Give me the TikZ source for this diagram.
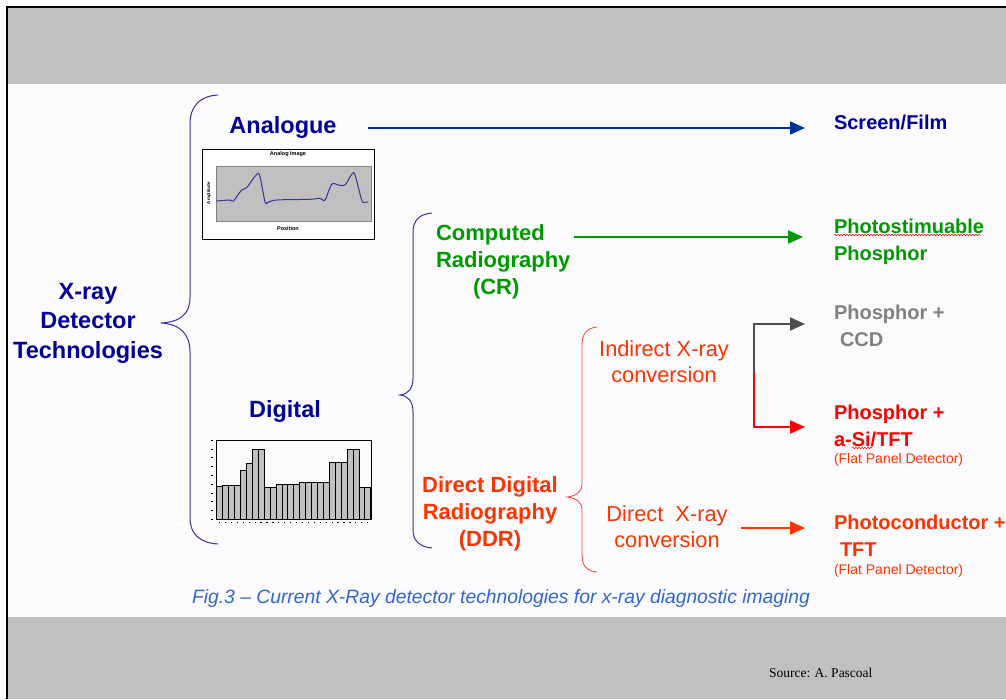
\documentclass[tikz,border=0pt]{standalone}
\usepackage{fontspec}
\setmainfont{Liberation Sans}
\newfontfamily\serifsrc{Liberation Serif}
\usetikzlibrary{arrows.meta,calc,decorations.pathmorphing}
\definecolor{navy}{RGB}{0,0,153}
\definecolor{arrowblue}{RGB}{0,51,153}
\definecolor{braceblue}{RGB}{51,51,153}
\definecolor{grn}{RGB}{0,153,0}
\definecolor{orred}{RGB}{255,51,0}
\definecolor{pured}{RGB}{255,0,0}
\definecolor{bracered}{RGB}{255,60,60}
\definecolor{midgray}{RGB}{128,128,128}
\definecolor{arrowgray}{RGB}{77,77,77}
\definecolor{capblue}{RGB}{51,102,204}
\definecolor{slidebg}{RGB}{251,251,253}
\definecolor{bandgray}{RGB}{192,192,192}
\definecolor{plotgray}{RGB}{192,192,192}
\newcommand\myfs[2]{\fontsize{#1}{#2}\selectfont}
\begin{document}
\begin{tikzpicture}[x=1pt,y=-1pt,
  every node/.style={inner sep=0pt,outer sep=0pt},
  maintitle/.style={font=\myfs{23.5}{29.5}\bfseries,text=navy,align=center},
  subtitle/.style={font=\myfs{22}{27}\bfseries},
  conv/.style={font=\myfs{21.8}{26},text=orred,align=center},
  result/.style={font=\myfs{20}{27}\bfseries,align=left},
  fpd/.style={font=\myfs{14}{16},text=orred},
  arr/.style={line width=2pt,-{Triangle[length=15pt,width=13pt]}},
  bracepath/.style={line width=1pt},
  wavy/.style={decorate,decoration={snake,amplitude=0.8pt,segment length=3pt},pured,line width=0.5pt},
  tinyf/.style={font=\myfs{5.5}{6}\bfseries}
]
\useasboundingbox (0,0) rectangle (1006,699);
% background
\fill[white] (0,0) rectangle (1006,699);
\fill[bandgray] (8,8) rectangle (1006,84);
\fill[bandgray] (8,617) rectangle (1006,699);
\fill[slidebg] (8,84) rectangle (1006,617);
\draw[line width=2.5pt] (7.2,699) -- (7.2,7.2) -- (1006,7.2);

% left titles
\node[maintitle,anchor=north] (xray) at (88,283) {X-ray\\Detector\\Technologies};
\node[maintitle,anchor=north] (analogue) at (283,116) {Analogue};
\node[maintitle,anchor=north] (digital) at (285,400) {Digital};

% middle
\node[subtitle,text=grn,align=left,anchor=north west] (cr) at (436,225) {Computed\\Radiography\\\hspace*{37pt}(CR)};
\node[subtitle,text=orred,align=center,anchor=north] (ddr) at (490,477) {Direct Digital\\Radiography\\(DDR)};
\node[conv,anchor=north] (indirect) at (664,341) {Indirect X-ray\\conversion};
\node[conv,anchor=north] (direct) at (667,506) {Direct\ \ X-ray\\conversion};

% right results
\node[result,text=navy,anchor=north west] (screen) at (834,115) {Screen/Film};
\node[result,text=grn,anchor=north west] (psp) at (834,219) {Photostimuable\\Phosphor};
\node[result,text=midgray,anchor=north west] (ccd) at (834,305) {Phosphor +\\\hspace*{6pt}CCD};
\node[result,text=pured,anchor=north west] (asi) at (834,405) {Phosphor +\\a-Si/TFT};
\node[fpd,anchor=west] (fpd1) at (834,460) {(Flat Panel Detector)};
\node[result,text=orred,anchor=north west] (pc) at (834,515) {Photoconductor +\\\hspace*{6pt}TFT};
\node[fpd,anchor=west] (fpd2) at (834,571) {(Flat Panel Detector)};

% spell-check underlines
\draw[wavy] ($(psp.north west)+(0,16)$) -- ($(psp.north west)+(147,16)$);
\draw[wavy] ($(asi.north west)+(18,43)$) -- ($(asi.north west)+(38,43)$);

% arrows
\draw[arr,arrowblue] ($(analogue.east)+(31,1)$) -- ($(analogue.east -| screen.west)+(-29,1)$);
\draw[arr,grn] ($(cr.north east)+(4,12)$) -- ($(cr.north east -| psp.west)+(-31,12)$);
\coordinate (split) at ($(indirect.east)+(25,10)$);
\draw[arr,arrowgray] (split) |- ($(ccd.north west)+(-29,19)$);
\draw[arr,pured] (split) |- ($(asi.north west)+(-29,22)$);
\draw[arr,orred] ($(direct.north east)+(13,22)$) -- ($(direct.north east -| pc.west)+(-29,22)$);

% braces
\draw[bracepath,braceblue] (218,95) .. controls (200,96) and (190,106) .. (190,124) -- (190,298)
  .. controls (190,314) and (180,322) .. (161,323) .. controls (180,324) and (190,334) .. (190,352)
  -- (190,518) .. controls (190,534) and (200,543) .. (218,544);
\draw[bracepath,braceblue] (432,213) .. controls (420,214) and (413,220) .. (413,232) -- (413,378)
  .. controls (413,389) and (408,394) .. (400,395) .. controls (408,396) and (413,401) .. (413,412)
  -- (413,530) .. controls (413,541) and (420,547) .. (432,548);
\draw[bracepath,bracered,line width=0.8pt] (597,327) .. controls (587,328) and (582,334) .. (582,344) -- (582,484)
  .. controls (582,492) and (576,496) .. (567,497) .. controls (576,498) and (582,502) .. (582,510)
  -- (582,555) .. controls (582,566) and (587,571) .. (597,572);

% analogue chart
\draw[line width=0.8pt,fill=white] (202,149) rectangle (374,239);
\draw[line width=0.4pt,draw=gray,fill=plotgray] (216,166) rectangle (371,221);
\draw[line width=1pt,braceblue] plot[smooth,tension=0.55] coordinates {
 (216.7,201) (230,200) (233.3,201) (241.7,190) (246.7,187.7) (256.7,174.3) (260,176.7)
 (265,201.7) (268.3,202.3) (276.7,200) (310,199.3) (320,198.3) (325,200) (331.7,184.3)
 (338.3,185) (345,185) (351.7,174.3) (355,175) (361.7,200) (365,202.3) (368.3,201.7)};
\node[tinyf] (antitle) at (288,154) {Analog Image};
\node[tinyf,font=\myfs{4.5}{5}\bfseries,rotate=90] (anamp) at (209,193) {Amplitude};
\node[tinyf] (anpos) at (288,229) {Position};

% digital chart
\draw[line width=0.8pt] (216.7,519.3) -- (216.7,440) -- (371.7,440) -- (371.7,519.3) -- cycle;
\foreach \h [count=\i from 0] in {183,180,180,180,137,115,72,72,187,187,177,177,177,177,173,173,173,173,173,112,112,112,72,72,187,187}
  \draw[line width=0.6pt,fill=plotgray] ({216.7+5.923*\i},519.3) rectangle ({222.62+5.923*\i},{425+\h/3});
\foreach \k in {0,...,9}
  \draw[line width=0.5pt] (210.5,{440+8.8*\k}) -- (213,{440+8.8*\k});
\foreach \i in {0,...,25}
  \fill ({219+5.923*\i},522) rectangle ++(1.2,0.8);

% caption and source
\node[font=\myfs{19.3}{22}\itshape,text=capblue] (caption) at (501,599) {Fig.3 – Current X-Ray detector technologies for x-ray diagnostic imaging};
\node[font=\serifsrc\myfs{13.5}{16},anchor=base west] (src) at (769,677) {Source: A. Pascoal};
\end{tikzpicture}
\end{document}
